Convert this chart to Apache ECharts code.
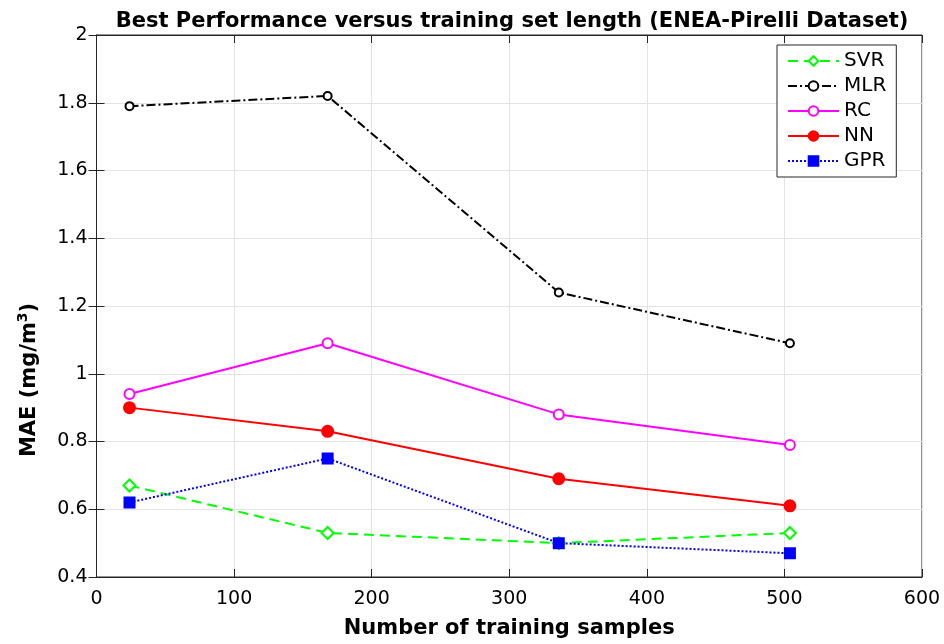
<!DOCTYPE html>
<html>
<head>
<meta charset="utf-8">
<script src="https://cdn.jsdelivr.net/npm/echarts@6/dist/echarts.min.js"></script>
<style>
  html, body { margin: 0; padding: 0; background: #fff; }
  #chart { width: 944px; height: 644px; }
</style>
</head>
<body>
<div id="chart"></div>
<script>
// Training set sizes (number of samples)
const samples = [24, 168, 336, 504];

// Mean absolute error per model (mg/m^3)
const svr = [0.67, 0.53, 0.50, 0.53];
const mlr = [1.79, 1.82, 1.24, 1.09];
const rc  = [0.94, 1.09, 0.88, 0.79];
const nn  = [0.90, 0.83, 0.69, 0.61];
const gpr = [0.62, 0.75, 0.50, 0.47];

const seriesNames = ['SVR', 'MLR', 'RC', 'NN', 'GPR'];

const FONT = '"DejaVu Sans", Arial, Helvetica, sans-serif';

function pairs(ys) {
  return samples.map((x, i) => [x, ys[i]]);
}

const chart = echarts.init(document.getElementById('chart'), null, { renderer: 'canvas' });

const axisColor = '#262626';
const gridColor = '#e3e3e3';

function line(name, ys, color, dash, symbol, size, borderWidth) {
  return {
    name: name,
    type: 'line',
    data: pairs(ys),
    xAxisIndex: 0,
    yAxisIndex: 0,
    symbol: symbol,
    symbolSize: size,
    showAllSymbol: true,
    lineStyle: { color: color, width: 2, type: dash },
    itemStyle: { color: color, borderColor: color, borderWidth: borderWidth || 2 },
    emphasis: { disabled: true },
    animation: false,
    z: 3
  };
}

const option = {
  backgroundColor: '#ffffff',
  animation: false,
  title: {
    text: 'Best Performance versus training set length (ENEA-Pirelli Dataset)',
    left: 507,
    textAlign: 'center',
    top: 6,
    textStyle: { fontFamily: FONT, fontSize: 21, fontWeight: 'bold', color: '#000' }
  },
  legend: {
    data: seriesNames,
    orient: 'vertical',
    left: 777,
    top: 45,
    padding: [6, 10, 6, 10],
    itemGap: 5,
    itemWidth: 51,
    itemHeight: 12,
    backgroundColor: '#fff',
    borderColor: '#262626',
    borderWidth: 1,
    borderRadius: 0,
    selectedMode: false,
    textStyle: { fontFamily: FONT, fontSize: 20, color: '#000', lineHeight: 20, padding: [0, 0, 0, 0] }
  },
  grid: {
    left: 96.5,
    right: 22,
    top: 35,
    bottom: 65,
    show: true,
    borderColor: axisColor,
    borderWidth: 1,
    containLabel: false
  },
  xAxis: [
    {
      type: 'value',
      min: 0,
      max: 600,
      interval: 100,
      position: 'bottom',
      name: 'Number of training samples',
      nameLocation: 'middle',
      nameGap: 41,
      nameTextStyle: { fontFamily: FONT, fontSize: 21, fontWeight: 'bold', color: '#000' },
      axisLine: { show: true, lineStyle: { color: axisColor, width: 1 } },
      axisTick: { show: true, inside: true, length: 8, lineStyle: { color: axisColor } },
      axisLabel: { fontFamily: FONT, fontSize: 19, color: '#000', margin: 13 },
      splitLine: { show: true, lineStyle: { color: gridColor, width: 1 } }
    },
    {
      type: 'value',
      min: 0,
      max: 600,
      interval: 100,
      position: 'top',
      axisLine: { show: true, lineStyle: { color: axisColor, width: 1 } },
      axisTick: { show: true, inside: true, length: 8, lineStyle: { color: axisColor } },
      axisLabel: { show: false },
      splitLine: { show: false }
    }
  ],
  yAxis: [
    {
      type: 'value',
      min: 0.4,
      max: 2,
      interval: 0.2,
      position: 'left',
      axisLine: { show: true, lineStyle: { color: axisColor, width: 1 } },
      axisTick: { show: true, inside: true, length: 8, lineStyle: { color: axisColor } },
      axisLabel: { fontFamily: FONT, fontSize: 19, color: '#000', margin: 9 },
      splitLine: { show: true, lineStyle: { color: gridColor, width: 1 } }
    },
    {
      type: 'value',
      min: 0.4,
      max: 2,
      interval: 0.2,
      position: 'right',
      axisLine: { show: true, lineStyle: { color: axisColor, width: 1 } },
      axisTick: { show: true, inside: true, length: 8, lineStyle: { color: axisColor } },
      axisLabel: { show: false },
      splitLine: { show: false }
    }
  ],
  graphic: [
    {
      type: 'text',
      x: 28,
      y: 380,
      rotation: Math.PI / 2,
      style: {
        text: '{b|MAE (mg/m}{s|3}{b|)}',
        align: 'center',
        verticalAlign: 'middle',
        rich: {
          b: { fontFamily: FONT, fontSize: 21, fontWeight: 'bold', fill: '#000', verticalAlign: 'bottom' },
          s: { fontFamily: FONT, fontSize: 14, fontWeight: 'bold', fill: '#000', verticalAlign: 'top', padding: [0, 0, 10, 0] }
        }
      }
    }
  ],
  series: [
    line('SVR', svr, '#00ff00', [10, 6], 'emptyDiamond', 12),
    line('MLR', mlr, '#000000', [9, 3, 2, 3], 'emptyCircle', 8, 2.5),
    line('RC', rc, '#ff00ff', 'solid', 'emptyCircle', 10),
    line('NN', nn, '#ff0000', 'solid', 'circle', 11),
    line('GPR', gpr, '#0000ff', [2, 2], 'rect', 10)
  ]
};

chart.setOption(option);
</script>
</body>
</html>
